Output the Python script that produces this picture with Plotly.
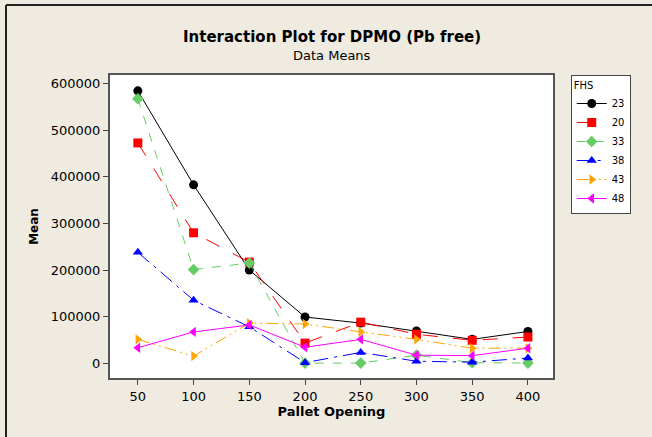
import plotly.graph_objects as go

pallet_opening = [50, 100, 150, 200, 250, 300, 350, 400]
fhs_23 = [585000, 383000, 200000, 99000, 86000, 69000, 51000, 68000]
fhs_20 = [473000, 280000, 217000, 43000, 88000, 62000, 49000, 56000]
fhs_33 = [568000, 201000, 215000, 0, 0, 17000, 1000, 0]
fhs_38 = [238000, 135000, 78000, 1000, 23000, 4000, 2000, 11000]
fhs_43 = [51000, 15000, 86000, 84000, 67000, 51000, 32000, 32000]
fhs_48 = [33000, 67000, 82000, 34000, 51000, 17000, 16000, 32000]
y_ticks = [0, 100000, 200000, 300000, 400000, 500000, 600000]
y_tick_labels = ["0", "100000", "200000", "300000", "400000", "500000", "600000"]

series = [
    ("23", fhs_23, "black", "solid", "circle"),
    ("20", fhs_20, "red", "longdash", "square"),
    ("33", fhs_33, "#66CC66", "dash", "diamond"),
    ("38", fhs_38, "blue", "longdashdot", "triangle-up"),
    ("43", fhs_43, "#FFA500", "12px,4px,2px,4px,2px,4px", "triangle-right"),
    ("48", fhs_48, "magenta", "solid", "triangle-left"),
]

fig = go.Figure()
for name, vals, color, dash, sym in series:
    fig.add_trace(go.Scatter(
        x=pallet_opening, y=vals, name=name, mode="lines+markers",
        line=dict(color=color, width=1, dash=dash),
        marker=dict(symbol=sym, size=9, color=color),
    ))

font = "DejaVu Sans"
fig.update_layout(
    width=652, height=437,
    paper_bgcolor="#EFEBE1", plot_bgcolor="white",
    margin=dict(l=110, r=99, t=75, b=59, autoexpand=False),
    font=dict(family=font, size=12, color="black"),
    showlegend=True,
    legend=dict(
        title=dict(text="FHS", font=dict(size=10)),
        x=1.04, y=1, xanchor="left", yanchor="top",
        bgcolor="white", bordercolor="#444", borderwidth=1,
        font=dict(size=10), tracegroupgap=0, itemwidth=30,
    ),
    annotations=[
        dict(text="<b>Interaction Plot for DPMO (Pb free)</b>", x=0.5, y=1, xref="paper", yref="paper",
             yshift=38, showarrow=False, font=dict(size=15, family=font), xanchor="center", yanchor="middle"),
        dict(text="Data Means", x=0.5, y=1, xref="paper", yref="paper",
             yshift=20, showarrow=False, font=dict(size=13, family=font), xanchor="center", yanchor="middle"),
    ],
    shapes=[
        dict(type="line", xref="paper", yref="paper", x0=(6-110)/443, x1=(652-110)/443,
             y0=1 + 70/303, y1=1 + 70/303, line=dict(color="#222", width=2)),
        dict(type="line", xref="paper", yref="paper", x0=(6-110)/443, x1=(6-110)/443,
             y0=-59/303, y1=1 + 70/303, line=dict(color="#222", width=2)),
    ],
)
fig.update_xaxes(
    range=[25, 422.5], tickvals=pallet_opening, ticks="outside", ticklen=5,
    tickfont=dict(size=13), automargin=False,
    showgrid=False, zeroline=False, showline=True, linecolor="#555", linewidth=2, mirror=True,
    title=dict(text="<b>Pallet Opening</b>", font=dict(size=13), standoff=4),
)
fig.update_yaxes(
    range=[-32000, 619000], tickvals=y_ticks, ticktext=y_tick_labels, ticks="outside", ticklen=5,
    tickfont=dict(size=13), automargin=False,
    showgrid=False, zeroline=False, showline=True, linecolor="#555", linewidth=2, mirror=True,
    title=dict(text="<b>Mean</b>", font=dict(size=12), standoff=10),
)
fig.write_html("out.html", config={"displayModeBar": False},
               post_script="document.body.style.margin='0';")
